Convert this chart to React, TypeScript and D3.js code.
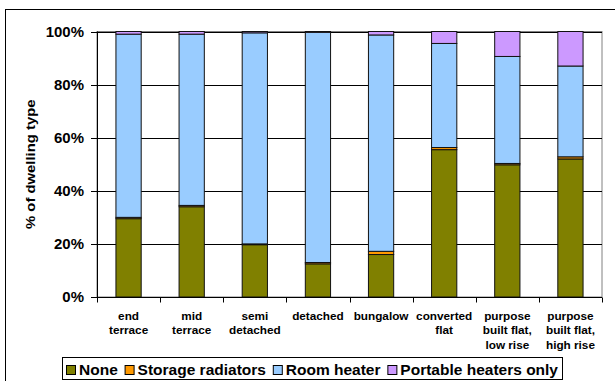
import React, { useEffect, useRef } from 'react';
import * as d3 from 'd3';

const categories = [
  'end\nterrace',
  'mid\nterrace',
  'semi\ndetached',
  'detached',
  'bungalow',
  'converted\nflat',
  'purpose\nbuilt flat,\nlow rise',
  'purpose\nbuilt flat,\nhigh rise',
];
const seriesNames = ['None', 'Storage radiators', 'Room heater', 'Portable heaters only'];
const noneVals = [29.5, 34, 19.7, 12.5, 16, 55.5, 49.8, 52];
const storageVals = [0.5, 0.5, 0.3, 0.5, 1.2, 0.8, 0.5, 0.8];
const roomVals = [69, 64.5, 79.5, 86.7, 81.5, 39.2, 40.3, 34.2];
const portableVals = [1, 1, 0.5, 0.3, 1.3, 4.5, 9.4, 13];
const yTicks = [0, 20, 40, 60, 80, 100];
const colors = ['#808000', '#FF9900', '#99CCFF', '#CC99FF'];

const App: React.FC = () => {
  const svgRef = useRef<SVGSVGElement>(null);

  useEffect(() => {
    if (!svgRef.current) return;
    const W = 615, H = 381;
    const plot = { left: 97, right: 602, top: 31.5, bottom: 297 };
    const font = '"Liberation Sans", Arial, sans-serif';
    const sx = 1.07; // windows bold text renders a bit wider

    const svg = d3.select(svgRef.current);
    svg.selectAll('*').remove();

    svg.append('rect').attr('width', W).attr('height', H).attr('fill', '#fff');
    // outer chart frame (runs off the right and bottom)
    svg.append('rect')
      .attr('x', 5.5).attr('y', 9.5).attr('width', W).attr('height', H)
      .attr('fill', 'none').attr('stroke', '#000');

    const label = (g: any, x: number, y: number, txt: string, size: number, anchor: string) =>
      g.append('text')
        .attr('transform', `translate(${x},${y}) scale(${sx},1)`)
        .attr('text-anchor', anchor)
        .attr('font-size', size)
        .attr('font-weight', 'bold')
        .attr('font-family', font)
        .attr('fill', '#000')
        .text(txt);

    const x = d3.scaleBand<string>()
      .domain(categories)
      .range([plot.left, plot.right])
      .paddingInner(0.6)
      .paddingOuter(0.3);
    const y = d3.scaleLinear().domain([0, 100]).range([plot.bottom, plot.top]);

    // plot area border
    svg.append('rect')
      .attr('x', plot.left).attr('y', plot.top)
      .attr('width', plot.right - plot.left).attr('height', plot.bottom - plot.top)
      .attr('fill', 'none').attr('stroke', '#808080');

    // gridlines
    svg.selectAll('.grid')
      .data(yTicks.filter(t => t > 0))
      .enter()
      .append('line')
      .attr('x1', plot.left).attr('x2', plot.right)
      .attr('y1', d => Math.round(y(d)) + 0.5).attr('y2', d => Math.round(y(d)) + 0.5)
      .attr('stroke', '#000');

    // stacked bars
    const table = categories.map((c, i) => ({
      cat: c,
      None: noneVals[i],
      'Storage radiators': storageVals[i],
      'Room heater': roomVals[i],
      'Portable heaters only': portableVals[i],
    }));
    const stacked = d3.stack<any>().keys(seriesNames)(table);

    stacked.forEach((layer, si) => {
      svg.append('g')
        .selectAll('rect')
        .data(layer)
        .enter()
        .append('rect')
        .attr('x', d => x(d.data.cat)!)
        .attr('width', x.bandwidth())
        .attr('y', d => y(d[1]))
        .attr('height', d => y(d[0]) - y(d[1]))
        .attr('fill', colors[si])
        .attr('stroke', '#111')
        .attr('stroke-width', 1);
    });

    // y axis
    svg.append('line')
      .attr('x1', plot.left + 0.5).attr('x2', plot.left + 0.5)
      .attr('y1', plot.top).attr('y2', plot.bottom)
      .attr('stroke', '#000');
    yTicks.forEach(t => {
      const ty = Math.round(y(t)) + 0.5;
      svg.append('line')
        .attr('x1', plot.left - 6).attr('x2', plot.left)
        .attr('y1', ty).attr('y2', ty)
        .attr('stroke', '#000');
      label(svg, 84, y(t), `${t}%`, 14, 'end').attr('dy', '0.36em');
    });

    // y title
    svg.append('text')
      .attr('transform', `translate(30,${(plot.top + plot.bottom) / 2}) rotate(-90) scale(1.1,1)`)
      .attr('text-anchor', 'middle')
      .attr('dy', '0.36em')
      .attr('font-size', 13.5)
      .attr('font-weight', 'bold')
      .attr('font-family', font)
      .text('% of dwelling type');

    // x axis
    const xb = Math.round(plot.bottom) + 0.5;
    svg.append('line')
      .attr('x1', plot.left).attr('x2', plot.right)
      .attr('y1', xb).attr('y2', xb)
      .attr('stroke', '#000');
    const step = x.step();
    d3.range(categories.length + 1).forEach(i => {
      const tx = Math.round(plot.left + i * step) + 0.5;
      svg.append('line')
        .attr('x1', tx).attr('x2', tx)
        .attr('y1', xb).attr('y2', xb + 5)
        .attr('stroke', '#000');
    });
    categories.forEach(c => {
      const cx = x(c)! + x.bandwidth() / 2;
      c.split('\n').forEach((line, li) => {
        label(svg, cx, 319.5 + li * 14.5, line, 11, 'middle');
      });
    });

    // legend
    const lg = { left: 62, right: 562, top: 357, bottom: 379 };
    svg.append('rect')
      .attr('x', lg.left + 0.5).attr('y', lg.top + 0.5)
      .attr('width', lg.right - lg.left).attr('height', lg.bottom - lg.top)
      .attr('fill', '#fff').attr('stroke', '#000');
    const texts = seriesNames.map(n => label(svg, 0, 374.5, n, 14.5, 'start'));
    const widths = texts.map(t => (t.node() as SVGTextElement).getComputedTextLength() * sx);
    const sw = 9, swGap = 4;
    const total = d3.sum(widths) + seriesNames.length * (sw + swGap);
    const gap = (lg.right - lg.left - 8 - total) / (seriesNames.length - 1);
    let cx = lg.left + 4;
    seriesNames.forEach((n, i) => {
      svg.append('rect')
        .attr('x', cx + 0.5).attr('y', 365.5)
        .attr('width', sw).attr('height', sw)
        .attr('fill', colors[i]).attr('stroke', '#000');
      texts[i].attr('transform', `translate(${cx + sw + swGap},374.5) scale(${sx},1)`);
      cx += sw + swGap + widths[i] + gap;
    });
  }, []);

  return (
    <svg ref={svgRef} width={615} height={381} style={{ position: 'absolute', left: 0, top: 0 }}></svg>
  );
};

export default App;
